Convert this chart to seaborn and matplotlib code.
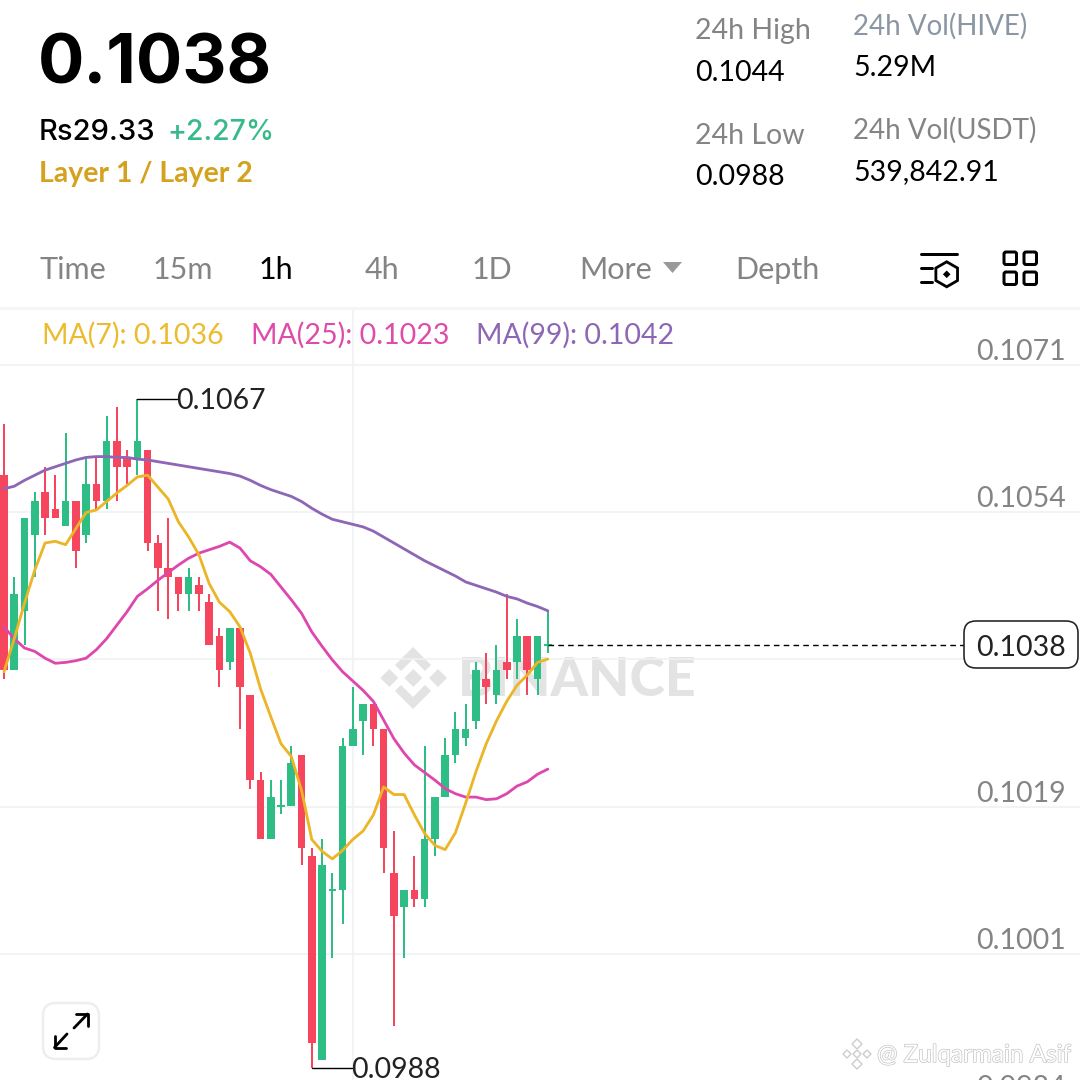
import matplotlib
matplotlib.use('Agg')
import matplotlib.pyplot as plt
import matplotlib.patheffects as pe
from matplotlib.patches import FancyBboxPatch, Polygon, RegularPolygon
import pandas as pd
import seaborn as sns

# candles, oldest first
opens = [0.1058, 0.1035, 0.1042, 0.1051, 0.1056, 0.1054, 0.1052, 0.1055, 0.1051, 0.1057,
         0.1055, 0.1062, 0.1060, 0.1060, 0.1061, 0.1050, 0.1047, 0.1046, 0.1044, 0.1045,
         0.1043, 0.1039, 0.1036, 0.1040, 0.1032, 0.1022, 0.1015, 0.1019, 0.1019, 0.1025,
         0.1013, 0.0989, 0.1009, 0.1009, 0.1026, 0.1029, 0.1031, 0.1028, 0.1011, 0.1007,
         0.1009, 0.1008, 0.1015, 0.1020, 0.1025, 0.1027, 0.1029, 0.1034, 0.1032, 0.1036,
         0.1036, 0.1039, 0.1034, 0.1038]
closes = [0.1035, 0.1044, 0.1053, 0.1055, 0.1053, 0.1053, 0.1055, 0.1049, 0.1057, 0.1055,
          0.1062, 0.1059, 0.1059, 0.1062, 0.1050, 0.1047, 0.1046, 0.1044, 0.1046, 0.1044,
          0.1038, 0.1035, 0.1040, 0.1033, 0.1022, 0.1015, 0.1020, 0.1019, 0.1024, 0.1014,
          0.0991, 0.1012, 0.1009, 0.1026, 0.1028, 0.1031, 0.1028, 0.1014, 0.1006, 0.1009,
          0.1008, 0.1015, 0.1020, 0.1025, 0.1028, 0.1028, 0.1035, 0.1033, 0.1035, 0.1035,
          0.1039, 0.1035, 0.1039, 0.1038]
highs = [0.1064, 0.1046, 0.1053, 0.1056, 0.1059, 0.1058, 0.1063, 0.1055, 0.1060, 0.1060,
         0.1065, 0.1066, 0.1061, 0.1067, 0.1061, 0.1051, 0.1053, 0.1046, 0.1047, 0.1046,
         0.1044, 0.1040, 0.1040, 0.1040, 0.1032, 0.1023, 0.1022, 0.1022, 0.1026, 0.1025,
         0.1014, 0.1015, 0.1011, 0.1027, 0.1033, 0.1031, 0.1031, 0.1028, 0.1016, 0.1009,
         0.1013, 0.1026, 0.1020, 0.1027, 0.1030, 0.1031, 0.1036, 0.1037, 0.1038, 0.1044,
         0.1041, 0.1039, 0.1039, 0.1042]
lows = [0.1034, 0.1035, 0.1038, 0.1046, 0.1051, 0.1053, 0.1052, 0.1047, 0.1050, 0.1054,
        0.1054, 0.1055, 0.1057, 0.1058, 0.1049, 0.1042, 0.1041, 0.1042, 0.1042, 0.1042,
        0.1038, 0.1033, 0.1035, 0.1028, 0.1021, 0.1015, 0.1015, 0.1018, 0.1019, 0.1012,
        0.0988, 0.0989, 0.1001, 0.1005, 0.1026, 0.1025, 0.1026, 0.1011, 0.0993, 0.1001,
        0.1007, 0.1007, 0.1013, 0.1020, 0.1024, 0.1026, 0.1028, 0.1031, 0.1031, 0.1034,
        0.1034, 0.1032, 0.1032, 0.1037]

ma7 = [0.10348, 0.10387, 0.10429, 0.10468, 0.10500, 0.10502, 0.10498, 0.10517, 0.10536, 0.10539,
       0.10549, 0.10559, 0.10568, 0.10578, 0.10580, 0.10566, 0.10552, 0.10525, 0.10507, 0.10486,
       0.10452, 0.10430, 0.10419, 0.10401, 0.10370, 0.10328, 0.10295, 0.10263, 0.10248, 0.10208,
       0.10150, 0.10136, 0.10127, 0.10137, 0.10150, 0.10160, 0.10179, 0.10212, 0.10203, 0.10203,
       0.10179, 0.10157, 0.10143, 0.10138, 0.10158, 0.10193, 0.10230, 0.10263, 0.10290, 0.10313,
       0.10332, 0.10344, 0.10359, 0.10363]
ma25 = [0.10401, 0.10387, 0.10376, 0.10372, 0.10364, 0.10358, 0.10359, 0.10361, 0.10364, 0.10374,
        0.10387, 0.10403, 0.10419, 0.10437, 0.10446, 0.10456, 0.10465, 0.10474, 0.10482, 0.10488,
        0.10492, 0.10496, 0.10501, 0.10494, 0.10479, 0.10472, 0.10463, 0.10448, 0.10433, 0.10417,
        0.10395, 0.10378, 0.10362, 0.10348, 0.10337, 0.10326, 0.10313, 0.10291, 0.10269, 0.10252,
        0.10238, 0.10229, 0.10220, 0.10210, 0.10204, 0.10200, 0.10200, 0.10197, 0.10198, 0.10204,
        0.10213, 0.10218, 0.10227, 0.10233]
ma99 = [0.10564, 0.10567, 0.10574, 0.10580, 0.10586, 0.10590, 0.10594, 0.10598, 0.10601, 0.10602,
        0.10602, 0.10601, 0.10601, 0.10599, 0.10598, 0.10596, 0.10594, 0.10592, 0.10590, 0.10588,
        0.10586, 0.10584, 0.10582, 0.10579, 0.10574, 0.10568, 0.10563, 0.10559, 0.10555, 0.10549,
        0.10541, 0.10534, 0.10528, 0.10525, 0.10522, 0.10519, 0.10514, 0.10507, 0.10500, 0.10493,
        0.10486, 0.10479, 0.10473, 0.10467, 0.10461, 0.10454, 0.10450, 0.10446, 0.10442, 0.10437,
        0.10434, 0.10429, 0.10425, 0.10420]

grid_prices = [0.10710, 0.10536, 0.10363, 0.10188, 0.10015, 0.09841]
# the 0.1036 level has no label of its own, the last price box sits on it
grid_labels = ['0.1071', '0.1054', '', '0.1019', '0.1001', '0.0984']
tabs = ['Time', '15m', '1h', '4h', '1D', 'More', 'Depth']
tab_x = [39, 153, 259, 365, 472, 579, 735]

GREEN = '#2EBD85'
RED = '#F6465D'
GRAY = '#848484'
GRID = '#F0F1F2'
PX = 1 / 100 * 72  # one pixel in points at dpi 100
PRICE_PER_PX = 0.0001 / 8.47
NUM = ['Inter', 'Lato', 'DejaVu Sans']  # wider digits than Lato, big price only

sns.set_theme(style='white')
plt.rcParams['font.family'] = ['Lato', 'DejaVu Sans']

fig = plt.figure(figsize=(10.8, 10.8), dpi=100, facecolor='white')

# pixel canvas for the app chrome
ui = fig.add_axes([0, 0, 1, 1], zorder=0)
ui.set_xlim(0, 1080)
ui.set_ylim(1080, 0)
ui.axis('off')

# chart itself, positions come from the data
ax = fig.add_axes([0, 0, 1, 770 / 1080], zorder=1)
ax.patch.set_alpha(0)
ax.set_xlim(-4 / 10.26, 1076 / 10.26)
ax.set_ylim(0.1067 - 681 * PRICE_PER_PX, 0.1067 + 89 * PRICE_PER_PX)
sns.despine(ax=ax, left=True, bottom=True, top=True, right=True)
ax.set_xticks([])
ax.set_yticks([])


def txt(x, y, s, size, color='black', weight='normal', **kw):
    ui.text(x, y, s, fontsize=size, color=color, fontweight=weight, va='baseline', **kw)


# header
txt(38, 83, '0.1038', 49.5, weight='bold', family=NUM)
txt(39, 140, 'Rs29.33', 21, weight='medium', family=NUM)
txt(167, 140, '+2.27%', 20.5, color='#38B98A', weight='medium', family=NUM)
txt(39, 182, 'Layer 1 / Layer 2', 20.5, color='#D4A21E', weight='bold')
txt(695, 38.5, '24h High', 20.5, color=GRAY)
txt(695, 81, '0.1044', 20.5)
txt(695, 144, '24h Low', 20.5, color=GRAY)
txt(695, 185, '0.0988', 20.5)
txt(853, 35, '24h Vol(HIVE)', 20, color='#8A96A3')
txt(853, 76.5, '5.29M', 20.5)
txt(853, 138.5, '24h Vol(USDT)', 20, color=GRAY)
txt(853, 180.5, '539,842.91', 20.5)

# tab row
for name, x in zip(tabs, tab_x):
    txt(x, 279, name, 22, color='black' if name == '1h' else GRAY)
ui.add_patch(Polygon([(663, 262), (682, 262), (672.5, 273)], color='#999999', lw=0))
ui.plot([921, 957], [254, 254], color='black', lw=3 * PX)
for y in (268, 282):
    ui.plot([921, 932], [y, y], color='black', lw=3 * PX)
ui.add_patch(RegularPolygon((946.7, 274.3), 6, radius=12.5, fill=False, ec='black', lw=2.8 * PX))
ui.add_patch(RegularPolygon((946.7, 274.3), 4, radius=3.8, color='black', lw=0))
for x0 in (1004, 1024):
    for y0 in (252, 272):
        ui.add_patch(FancyBboxPatch((x0, y0), 12.5, 12.5, boxstyle='round,pad=0,rounding_size=2',
                                    fill=False, ec='black', lw=3 * PX))
ui.plot([0, 1080], [308, 308], color='#F5F5F5', lw=3 * PX)

# moving average header
txt(42, 344, 'MA(7): 0.1036', 20.5, color='#EDBB2E')
txt(251, 344, 'MA(25): 0.1023', 20.5, color='#DF4BA9')
txt(476, 344, 'MA(99): 0.1042', 20.5, color='#8D67B6')

# binance watermark sits under the candles
WM = '#E3E3E3'
for x0 in (389.3, 413.3, 438):
    ui.add_patch(RegularPolygon((x0, 678), 4, radius=9, color=WM, lw=0))
ui.add_patch(Polygon([(413, 647), (431, 665), (425, 671), (413, 659), (401, 671), (395, 665)], color=WM, lw=0))
ui.add_patch(Polygon([(413, 709), (431, 691), (425, 685), (413, 697), (401, 685), (395, 691)], color=WM, lw=0))
txt(458, 696, 'BINANCE', 38.5, color=WM, weight='black')

# grid
ax.hlines(grid_prices, -1, 106, color=GRID, lw=1.6 * PX, zorder=1)
ax.axvline(34, color=GRID, lw=1.6 * PX, zorder=1)

# candles
candles = pd.DataFrame({'o': opens, 'c': closes, 'h': highs, 'l': lows})
candles['i'] = candles.index
candles['color'] = [GREEN if c >= o else RED for o, c in zip(opens, closes)]
candles['bottom'] = candles[['o', 'c']].min(axis=1)
candles['height'] = (candles['o'] - candles['c']).abs()
# dojis still get a thin body
flat = candles['height'] == 0
candles.loc[flat, 'height'] = 2 * PRICE_PER_PX
candles.loc[flat, 'bottom'] = candles.loc[flat, 'c'] - PRICE_PER_PX
ax.vlines(candles['i'], candles['l'], candles['h'], color=candles['color'], lw=2 * PX, zorder=2)
ax.bar(candles['i'], candles['height'], bottom=candles['bottom'], width=0.74,
       color=candles['color'], lw=0, zorder=3)

# moving averages on top
ma = pd.DataFrame({'i': candles['i'], 'ma7': ma7, 'ma25': ma25, 'ma99': ma99})
sns.lineplot(data=ma, x='i', y='ma99', color='#8D67B6', lw=2.8 * PX, ax=ax, zorder=4)
sns.lineplot(data=ma, x='i', y='ma25', color='#DD47AE', lw=2.8 * PX, ax=ax, zorder=5)
sns.lineplot(data=ma, x='i', y='ma7', color='#EBB526', lw=2.8 * PX, ax=ax, zorder=6)
ax.set_xlabel('')
ax.set_ylabel('')

# price scale labels
for p, label in zip(grid_prices, grid_labels):
    ax.annotate(label, xy=(1, p), xycoords=('axes fraction', 'data'), xytext=(-14, 5),
                textcoords='offset pixels', ha='right', va='baseline', fontsize=20.5,
                color=GRAY, annotation_clip=False)

# high / low markers
hi = candles['h'].idxmax()
lo = candles['l'].idxmin()
ax.plot([hi, hi + 3.9], [highs[hi], highs[hi]], color='black', lw=1.4 * PX, zorder=7)
ax.annotate(f'{highs[hi]:.4f}', xy=(hi + 3.9, highs[hi]), xytext=(-1, -10), textcoords='offset pixels',
            fontsize=20.5, color='#222222', va='baseline')
ax.plot([lo, lo + 3.95], [lows[lo], lows[lo]], color='black', lw=1.4 * PX, zorder=7)
ax.annotate(f'{lows[lo]:.4f}', xy=(lo + 3.95, lows[lo]), xytext=(-1, -10), textcoords='offset pixels',
            fontsize=20.5, color='#222222', va='baseline', annotation_clip=False)

# last price line and box
last = closes[-1]
ax.plot([53, 93.6], [last, last], color='black', lw=1.4 * PX, ls=(0, (4, 3)), zorder=7)
ax.add_patch(FancyBboxPatch((964, 621), 114, 47, boxstyle='round,pad=0,rounding_size=12',
                            fc='white', ec='#222222', lw=1.6 * PX, transform=ui.transData, zorder=8))
ax.text(976, 656, f'{last:.4f}', transform=ui.transData, fontsize=20.5, color='#222222',
        va='baseline', zorder=9)

# expand button
ax.add_patch(FancyBboxPatch((43, 1003), 56, 56, boxstyle='round,pad=0,rounding_size=13',
                            fc='white', ec='#EEEEEE', lw=2.5 * PX, transform=ui.transData, zorder=8))
arrows = [([74, 87.5], [1028, 1014]), ([76, 88, 88], [1014, 1014, 1026]),
          ([67, 54.5], [1034, 1047.5]), ([54.5, 54.5, 66], [1036, 1047.5, 1047.5])]
for xs, ys in arrows:
    ax.plot(xs, ys, color='black', lw=2.8 * PX, transform=ui.transData, zorder=9, clip_on=False)

# author stamp bottom right
stroke = [pe.withStroke(linewidth=1.0, foreground='#C4C4C4')]
ax.text(877, 1062, '@ Zulqarmain Asif', transform=ui.transData, fontsize=17.5, color='white',
        path_effects=stroke, zorder=9, clip_on=False)
for x0, y0, r in [(847, 1054, 4), (867, 1054, 4), (857, 1054, 4), (857, 1044, 5), (857, 1064, 5)]:
    ax.add_patch(RegularPolygon((x0, y0), 4, radius=r, fc='white', ec='#CCCCCC', lw=1,
                                transform=ui.transData, zorder=9))

fig.savefig('out.png', dpi=100)
